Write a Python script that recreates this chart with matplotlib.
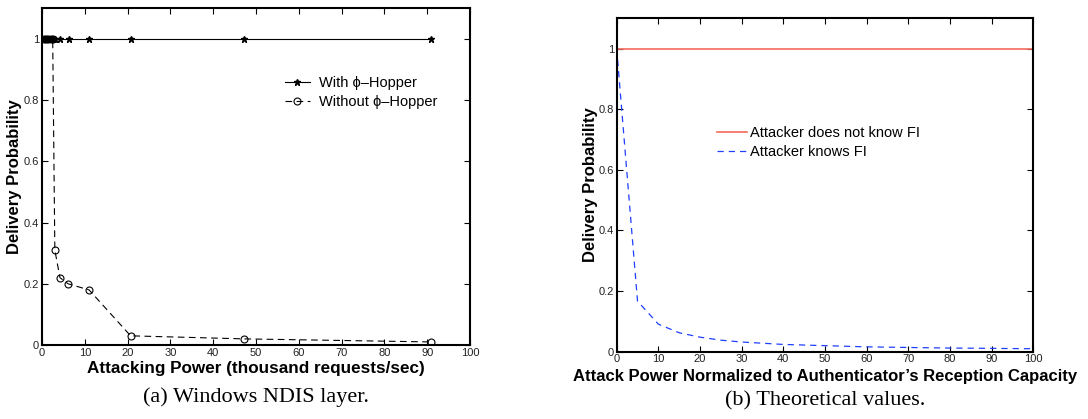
import matplotlib
matplotlib.use("Agg")
import matplotlib.pyplot as plt

plt.rcParams["font.family"] = ["Liberation Sans", "DejaVu Sans"]

# (a) Windows NDIS layer
with_x = [0.5, 1.0, 1.5, 2.0, 2.5, 3.0, 4.2, 6.2, 11.0, 20.8, 47.2, 91.0]
with_y = [1, 1, 1, 1, 1, 1, 1, 1, 1, 1, 1, 1]
without_x = [0.5, 1.0, 1.5, 2.0, 2.5, 3.0, 4.2, 6.1, 11.0, 20.7, 47.3, 91.0]
without_y = [1, 1, 1, 1, 1, 0.31, 0.22, 0.20, 0.18, 0.03, 0.02, 0.01]

# (b) Theoretical values
theo_x = [0, 5, 10, 15, 20, 25, 30, 35, 40, 45, 50, 55, 60, 65, 70, 75, 80,
          85, 90, 95, 100]
no_fi_y = [1] * len(theo_x)
knows_fi_y = [1.0, 0.167, 0.091, 0.0625, 0.048, 0.038, 0.032, 0.028, 0.024,
              0.022, 0.020, 0.018, 0.016, 0.015, 0.014, 0.013, 0.012, 0.0116,
              0.011, 0.0104, 0.0099]

xticks = list(range(0, 101, 10))
yticks = [0, 0.2, 0.4, 0.6, 0.8, 1]

fig = plt.figure(figsize=(10.88, 4.19), dpi=100)
ax1 = fig.add_axes([0.0386, 0.1766, 0.3934, 0.8034])
ax2 = fig.add_axes([0.5668, 0.1606, 0.3829, 0.7957])


def style(ax, lab_x):
    ax.set_xlim(0, 100)
    ax.set_ylim(0, 1.1)
    ax.set_xticks(xticks)
    ax.set_yticks(yticks)
    ax.set_yticklabels(["0", "0.2", "0.4", "0.6", "0.8", "1"])
    ax.tick_params(direction="in", top=True, right=True, length=4,
                   width=0.8, labelsize=8, labelcolor="#222222", pad=2)
    for s in ax.spines.values():
        s.set_linewidth(1.5)
    ax.set_ylabel("Delivery Probability", fontsize=12, fontweight="bold")
    ax.yaxis.set_label_coords(lab_x, 0.5)


style(ax1, -0.047)
ax1.plot(with_x, with_y, "-", color="black", linewidth=0.8, marker="*",
         markersize=4.5, label="With ϕ–Hopper")
ax1.plot(without_x, without_y, "--", color="black", linewidth=0.8,
         dashes=(6, 4), marker="o", markersize=5, markerfacecolor="none",
         markeredgewidth=0.8, label="Without ϕ–Hopper")
ax1.set_xlabel("Attacking Power (thousand requests/sec)", fontsize=12.3,
               fontweight="bold", labelpad=2.5)
ax1.legend(loc="upper left", bbox_to_anchor=(0.262, 0.819),
           bbox_transform=fig.transFigure, frameon=False,
           fontsize=10.5, handlelength=1.7, handletextpad=0.6,
           borderaxespad=0, borderpad=0, labelspacing=0.35)

style(ax2, -0.045)
ax2.plot(theo_x, no_fi_y, "-", color="#f26b5b", linewidth=1.2,
         label="Attacker does not know FI")
ax2.plot(theo_x, knows_fi_y, "--", color="#2040ff", linewidth=0.9,
         dashes=(5, 4), label="Attacker knows FI")
ax2.set_xlabel("Attack Power Normalized to Authenticator’s Reception Capacity",
               fontsize=12, fontweight="bold", labelpad=3)
ax2.legend(loc="upper left", bbox_to_anchor=(0.659, 0.699),
           bbox_transform=fig.transFigure, frameon=False,
           fontsize=10.5, handlelength=2.05, handletextpad=0.2,
           borderaxespad=0, borderpad=0, labelspacing=0.35)

fig.text(0.235, 0.04, "(a) Windows NDIS layer.", ha="center",
         fontsize=16, family="Liberation Serif")
fig.text(0.758, 0.033, "(b) Theoretical values.", ha="center",
         fontsize=16, family="Liberation Serif")

fig.savefig("out.png", dpi=100)
